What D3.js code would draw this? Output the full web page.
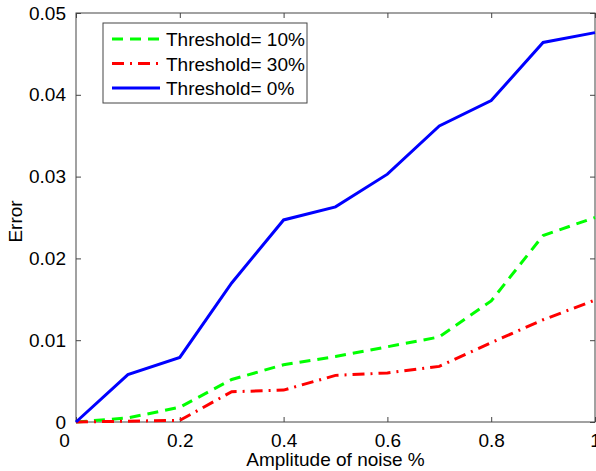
<!DOCTYPE html>
<html>
<head>
<meta charset="utf-8">
<script src="https://cdn.jsdelivr.net/npm/d3@7"></script>
<style>
  body { margin: 0; background: #fff; }
  svg text { font-family: "Liberation Sans", Arial, Helvetica, sans-serif; fill: #000; }
</style>
</head>
<body>
<svg id="chart" width="596" height="471"></svg>
<script>
  // noise amplitude (x) and error for each threshold
  var noise = [0, 0.1, 0.2, 0.3, 0.4, 0.5, 0.6, 0.7, 0.8, 0.9, 1];
  var thr10 = [0, 0.0005, 0.0018, 0.0052, 0.0070, 0.0080, 0.0092, 0.0104, 0.0148, 0.0228, 0.0250];
  var thr30 = [0, 0.0001, 0.0002, 0.0037, 0.0039, 0.0057, 0.0060, 0.0068, 0.0097, 0.0125, 0.0149];
  var thr0  = [0, 0.0058, 0.0079, 0.0170, 0.0247, 0.0263, 0.0303, 0.0362, 0.0393, 0.0464, 0.0476];
  var xTicks = [0, 0.2, 0.4, 0.6, 0.8, 1];
  var yTicks = [0, 0.01, 0.02, 0.03, 0.04, 0.05];
  var legendLabels = ["Threshold= 10%", "Threshold= 30%", "Threshold= 0%"];

  var series = [
    {name: legendLabels[0], vals: thr10, color: "#00ff00", dash: "11,7"},
    {name: legendLabels[1], vals: thr30, color: "#ff0000", dash: "12,6,2,6"},
    {name: legendLabels[2], vals: thr0,  color: "#0000ff", dash: null}
  ];

  var svg = d3.select("#chart");
  var pl = 76, pr = 595, pt = 13, pb = 422;   // plot box edges

  var x = d3.scaleLinear().domain([0, 1]).range([pl, pr]);
  var y = d3.scaleLinear().domain([0, 0.05]).range([pb, pt]);

  var fmt = function (d) { return d === 0 ? "0" : String(+d.toFixed(2)); };

  // bottom axis, ticks inside
  var gx = svg.append("g").attr("transform", "translate(0," + pb + ")")
      .call(d3.axisBottom(x).tickValues(xTicks).tickSizeInner(-5).tickSizeOuter(0)
            .tickPadding(12).tickFormat(fmt));
  // top mirror ticks
  var gxt = svg.append("g").attr("transform", "translate(0," + pt + ")")
      .call(d3.axisTop(x).tickValues(xTicks).tickSizeInner(-5).tickSizeOuter(0).tickFormat(""));
  var gy = svg.append("g").attr("transform", "translate(" + pl + ",0)")
      .call(d3.axisLeft(y).tickValues(yTicks).tickSizeInner(-5).tickSizeOuter(0)
            .tickPadding(10).tickFormat(fmt));
  var gyr = svg.append("g").attr("transform", "translate(" + pr + ",0)")
      .call(d3.axisRight(y).tickValues(yTicks).tickSizeInner(-5).tickSizeOuter(0).tickFormat(""));

  [gx, gxt, gy, gyr].forEach(function (g) {
      g.select(".domain").remove();
      g.selectAll(".tick line").attr("stroke", "#444");
      g.selectAll("text").attr("font-size", 19).attr("font-family", null).attr("fill", "#000");
  });
  // first x label sits a bit left in the original
  gx.selectAll(".tick text").filter(function (d) { return d === 0; }).attr("dx", -12);

  svg.append("rect")
      .attr("x", pl).attr("y", pt)
      .attr("width", pr - pl).attr("height", pb - pt)
      .attr("fill", "none").attr("stroke", "#444").attr("stroke-width", 1);

  var line = d3.line()
      .x(function (d, i) { return x(noise[i]); })
      .y(function (d) { return y(d); });

  svg.selectAll("path.series").data(series).enter().append("path")
      .attr("class", "series")
      .attr("d", function (s) { return line(s.vals); })
      .attr("fill", "none")
      .attr("stroke", function (s) { return s.color; })
      .attr("stroke-width", 3)
      .attr("stroke-dasharray", function (s) { return s.dash; });

  // axis labels
  svg.append("text")
      .attr("x", (pl + pr) / 2).attr("y", 466)
      .attr("text-anchor", "middle").attr("font-size", 19)
      .text("Amplitude of noise %");
  svg.append("text")
      .attr("transform", "translate(22," + ((pt + pb) / 2 + 4) + ") rotate(-90)")
      .attr("text-anchor", "middle").attr("font-size", 19)
      .text("Error");

  // legend
  var lg = svg.append("g");
  lg.append("rect")
      .attr("x", 103).attr("y", 23).attr("width", 204).attr("height", 80)
      .attr("fill", "#fff").attr("stroke", "#444").attr("stroke-width", 1);
  var rows = lg.selectAll("g.row").data(series).enter().append("g")
      .attr("class", "row")
      .attr("transform", function (s, i) { return "translate(0," + (39 + i * 24.5) + ")"; });
  rows.append("line")
      .attr("x1", 112).attr("x2", 160).attr("y1", 0).attr("y2", 0)
      .attr("stroke", function (s) { return s.color; })
      .attr("stroke-width", 3)
      .attr("stroke-dasharray", function (s) { return s.dash; });
  rows.append("text")
      .attr("x", 166).attr("y", 7).attr("font-size", 19)
      .text(function (s) { return s.name; });
</script>
</body>
</html>
